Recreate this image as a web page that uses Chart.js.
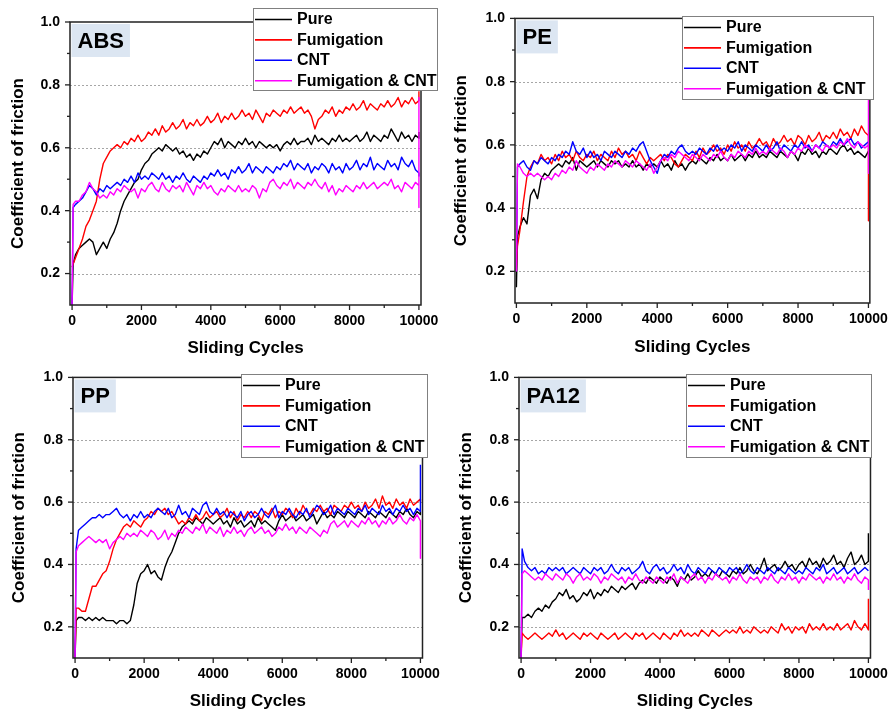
<!DOCTYPE html>
<html>
<head>
<meta charset="utf-8">
<title>Coefficient of friction vs sliding cycles</title>
<script src="https://cdn.jsdelivr.net/npm/chart.js@4.4.1/dist/chart.umd.min.js"></script>
<style>
  html, body { margin: 0; padding: 0; background: #fff; }
  body { width: 896px; height: 719px; position: relative; overflow: hidden; }
  canvas { position: absolute; }
</style>
</head>
<body>
<canvas id="absChart" width="448" height="360" style="left:0;top:0"></canvas>
<canvas id="peChart" width="448" height="360" style="left:448px;top:0"></canvas>
<canvas id="ppChart" width="448" height="360" style="left:0;top:359px"></canvas>
<canvas id="pa12Chart" width="448" height="360" style="left:448px;top:359px"></canvas>
<script>
// Sliding cycles shared by every curve (start, 100-cycle steps, end spike)
const cycles = [
  0, 30,
  100, 200, 300, 400, 500, 600, 700, 800, 900, 1000,
  1100, 1200, 1300, 1400, 1500, 1600, 1700, 1800, 1900, 2000,
  2100, 2200, 2300, 2400, 2500, 2600, 2700, 2800, 2900, 3000,
  3100, 3200, 3300, 3400, 3500, 3600, 3700, 3800, 3900, 4000,
  4100, 4200, 4300, 4400, 4500, 4600, 4700, 4800, 4900, 5000,
  5100, 5200, 5300, 5400, 5500, 5600, 5700, 5800, 5900, 6000,
  6100, 6200, 6300, 6400, 6500, 6600, 6700, 6800, 6900, 7000,
  7100, 7200, 7300, 7400, 7500, 7600, 7700, 7800, 7900, 8000,
  8100, 8200, 8300, 8400, 8500, 8600, 8700, 8800, 8900, 9000,
  9100, 9200, 9300, 9400, 9500, 9600, 9700, 9800, 9900, 10000,
  10000, 10000
];

const seriesNames = ['Pure', 'Fumigation', 'CNT', 'Fumigation & CNT'];
const seriesColors = ['#000000', '#ff0000', '#0000ff', '#ff00ff'];

const yTicks = [0.2, 0.4, 0.6, 0.8, 1.0];
const yMinorTicks = [0.3, 0.5, 0.7, 0.9];
const gridValues = [0.2, 0.4, 0.6, 0.8];
const xTicks = [0, 2000, 4000, 6000, 8000, 10000];
const xMinorTicks = [1000, 3000, 5000, 7000, 9000];

// ABS
const absPure = [
  0.10, 0.23,
  0.26, 0.28, 0.29, 0.30, 0.31, 0.30, 0.26, 0.28, 0.30, 0.28,
  0.31, 0.33, 0.36, 0.40, 0.43, 0.45, 0.47, 0.49, 0.50, 0.53,
  0.55, 0.56, 0.58, 0.59, 0.60, 0.59, 0.61, 0.60, 0.59, 0.60,
  0.58, 0.59, 0.57, 0.58, 0.56, 0.58, 0.57, 0.59, 0.58, 0.60,
  0.62, 0.61, 0.63, 0.60, 0.62, 0.61, 0.60, 0.62, 0.61, 0.63,
  0.61, 0.62, 0.60, 0.62, 0.61, 0.60, 0.61, 0.60, 0.61, 0.59,
  0.61, 0.62, 0.61, 0.63, 0.61, 0.62, 0.62, 0.63, 0.61, 0.64,
  0.62, 0.63, 0.62, 0.61, 0.63, 0.62, 0.64, 0.62, 0.63, 0.62,
  0.63, 0.64, 0.62, 0.63, 0.65, 0.62, 0.64, 0.63, 0.62, 0.64,
  0.63, 0.66, 0.64, 0.62, 0.65, 0.63, 0.64, 0.62, 0.64, 0.63,
  0.65, 0.65
];
const absFum = [
  0.22, 0.23,
  0.25, 0.28, 0.31, 0.35, 0.37, 0.40, 0.43, 0.50, 0.55, 0.57,
  0.59, 0.60, 0.61, 0.60, 0.62, 0.61, 0.63, 0.62, 0.64, 0.62,
  0.63, 0.65, 0.64, 0.66, 0.64, 0.67, 0.65, 0.66, 0.68, 0.66,
  0.67, 0.69, 0.66, 0.68, 0.67, 0.69, 0.67, 0.68, 0.70, 0.68,
  0.69, 0.71, 0.68, 0.70, 0.69, 0.71, 0.69, 0.70, 0.72, 0.70,
  0.71, 0.69, 0.72, 0.70, 0.68, 0.71, 0.70, 0.72, 0.71, 0.70,
  0.72, 0.71, 0.73, 0.71, 0.72, 0.73, 0.71, 0.72, 0.70, 0.66,
  0.69, 0.70, 0.72, 0.71, 0.73, 0.70, 0.72, 0.71, 0.73, 0.72,
  0.74, 0.72, 0.73, 0.75, 0.72, 0.74, 0.73, 0.72, 0.74, 0.73,
  0.75, 0.73, 0.74, 0.76, 0.73, 0.75, 0.74, 0.76, 0.74, 0.75,
  0.78, 0.78
];
const absCnt = [
  0.10, 0.41,
  0.42, 0.43, 0.44, 0.46, 0.48, 0.47, 0.45, 0.47, 0.46, 0.48,
  0.47, 0.48, 0.49, 0.48, 0.50, 0.49, 0.51, 0.49, 0.52, 0.50,
  0.51, 0.50, 0.52, 0.51, 0.50, 0.52, 0.50, 0.51, 0.49, 0.51,
  0.50, 0.52, 0.50, 0.49, 0.51, 0.50, 0.49, 0.51, 0.50, 0.52,
  0.51, 0.53, 0.51, 0.52, 0.50, 0.53, 0.52, 0.54, 0.52, 0.53,
  0.55, 0.52, 0.54, 0.53, 0.52, 0.54, 0.53, 0.52, 0.54, 0.53,
  0.55, 0.54, 0.56, 0.53, 0.55, 0.54, 0.53, 0.55, 0.52, 0.54,
  0.53, 0.55, 0.54, 0.52, 0.55, 0.53, 0.54, 0.52, 0.55, 0.53,
  0.54, 0.56, 0.53, 0.55, 0.54, 0.57, 0.53, 0.55, 0.54, 0.53,
  0.56, 0.54, 0.55, 0.53, 0.57, 0.55, 0.54, 0.56, 0.53, 0.52,
  0.51, 0.51
];
const absFumCnt = [
  0.10, 0.42,
  0.43, 0.43, 0.45, 0.46, 0.49, 0.47, 0.46, 0.44, 0.45, 0.44,
  0.46, 0.45, 0.47, 0.46, 0.48, 0.47, 0.46, 0.47, 0.44, 0.47,
  0.46, 0.48, 0.49, 0.47, 0.46, 0.49, 0.47, 0.46, 0.48, 0.47,
  0.48, 0.46, 0.49, 0.47, 0.45, 0.48, 0.47, 0.49, 0.47, 0.48,
  0.46, 0.45, 0.47, 0.46, 0.48, 0.47, 0.46, 0.48, 0.46, 0.47,
  0.46, 0.48, 0.47, 0.44, 0.47, 0.46, 0.49, 0.50, 0.48, 0.47,
  0.49, 0.48, 0.50, 0.47, 0.49, 0.48, 0.47, 0.49, 0.48, 0.50,
  0.48, 0.47, 0.49, 0.46, 0.48, 0.45, 0.47, 0.46, 0.48, 0.47,
  0.46, 0.48, 0.47, 0.49, 0.47, 0.48, 0.49, 0.47, 0.48, 0.49,
  0.48, 0.50, 0.47, 0.48, 0.46, 0.49, 0.48, 0.47, 0.49, 0.48,
  0.76, 0.41
];

// PE
const pePure = [
  0.15, 0.31,
  0.34, 0.37, 0.35, 0.44, 0.46, 0.43, 0.49, 0.51, 0.50, 0.52,
  0.53, 0.54, 0.53, 0.55, 0.54, 0.56, 0.52, 0.55, 0.54, 0.53,
  0.54, 0.55, 0.53, 0.55, 0.54, 0.53, 0.55, 0.54, 0.55, 0.53,
  0.54, 0.53, 0.55, 0.53, 0.54, 0.52, 0.54, 0.53, 0.54, 0.53,
  0.55, 0.53, 0.54, 0.52, 0.55, 0.53, 0.54, 0.52, 0.54, 0.55,
  0.54, 0.56, 0.55, 0.54, 0.56, 0.55, 0.57, 0.55, 0.56, 0.55,
  0.57, 0.55, 0.56, 0.57, 0.55, 0.57, 0.56, 0.58, 0.56, 0.57,
  0.56, 0.58, 0.57, 0.56, 0.58, 0.57, 0.56, 0.58, 0.57, 0.55,
  0.58, 0.57, 0.59, 0.57, 0.58, 0.56, 0.58, 0.57, 0.59, 0.58,
  0.57, 0.59, 0.60, 0.58, 0.59, 0.57, 0.58, 0.57, 0.56, 0.58,
  0.58, 0.58
];
const peFum = [
  0.20, 0.28,
  0.33, 0.42, 0.50, 0.53, 0.55, 0.54, 0.57, 0.55, 0.56, 0.54,
  0.57, 0.55, 0.58, 0.56, 0.57, 0.55, 0.58, 0.56, 0.55, 0.57,
  0.56, 0.58, 0.55, 0.57, 0.56, 0.55, 0.58, 0.56, 0.59, 0.57,
  0.58, 0.56, 0.57, 0.55, 0.58, 0.56, 0.54, 0.56, 0.55, 0.56,
  0.57, 0.55, 0.57, 0.56, 0.54, 0.53, 0.55, 0.57, 0.56, 0.55,
  0.58, 0.56, 0.59, 0.57, 0.58, 0.60, 0.58, 0.59, 0.57, 0.60,
  0.58, 0.61, 0.59, 0.60, 0.58, 0.61, 0.59, 0.60, 0.62, 0.60,
  0.61, 0.59, 0.62, 0.60, 0.61, 0.63, 0.61, 0.62, 0.60, 0.63,
  0.62, 0.60, 0.63, 0.61, 0.62, 0.64, 0.61, 0.63, 0.62, 0.64,
  0.62, 0.65, 0.63, 0.64, 0.62, 0.65, 0.63, 0.66, 0.64, 0.63,
  0.36, 0.36
];
const peCnt = [
  0.20, 0.53,
  0.54, 0.55, 0.53, 0.52, 0.55, 0.54, 0.56, 0.55, 0.54, 0.56,
  0.55, 0.57, 0.56, 0.58, 0.57, 0.61, 0.58, 0.57, 0.59, 0.56,
  0.58, 0.56, 0.57, 0.55, 0.58, 0.57, 0.56, 0.58, 0.57, 0.56,
  0.58, 0.57, 0.59, 0.58, 0.60, 0.61, 0.58, 0.55, 0.53, 0.51,
  0.55, 0.57, 0.56, 0.58, 0.57, 0.59, 0.60, 0.58, 0.57, 0.58,
  0.57, 0.59, 0.58, 0.57, 0.59, 0.58, 0.60, 0.58, 0.59, 0.58,
  0.60, 0.59, 0.61, 0.58, 0.60, 0.59, 0.58, 0.60, 0.59, 0.58,
  0.60, 0.58, 0.59, 0.61, 0.58, 0.60, 0.59, 0.58, 0.60, 0.59,
  0.61, 0.59, 0.60, 0.58, 0.60, 0.59, 0.61, 0.60, 0.59, 0.61,
  0.60, 0.62, 0.60, 0.61, 0.62, 0.60, 0.61, 0.59, 0.60, 0.61,
  0.61, 0.61
];
const peFumCnt = [
  0.20, 0.54,
  0.53, 0.51, 0.50, 0.51, 0.50, 0.51, 0.50, 0.49, 0.50, 0.49,
  0.51, 0.50, 0.52, 0.51, 0.53, 0.52, 0.55, 0.53, 0.52, 0.51,
  0.53, 0.52, 0.54, 0.53, 0.52, 0.54, 0.53, 0.55, 0.54, 0.53,
  0.55, 0.54, 0.53, 0.55, 0.54, 0.53, 0.52, 0.54, 0.51, 0.53,
  0.55, 0.56, 0.55, 0.57, 0.56, 0.58, 0.57, 0.56, 0.55, 0.57,
  0.56, 0.55, 0.57, 0.56, 0.55, 0.57, 0.56, 0.58, 0.56, 0.55,
  0.57, 0.56, 0.58, 0.57, 0.56, 0.58, 0.57, 0.59, 0.57, 0.58,
  0.57, 0.59, 0.58, 0.57, 0.59, 0.58, 0.56, 0.58, 0.57, 0.59,
  0.58, 0.60, 0.59, 0.58, 0.60, 0.59, 0.58, 0.60, 0.59, 0.60,
  0.59, 0.61, 0.60, 0.62, 0.60, 0.59, 0.61, 0.60, 0.59, 0.60,
  0.75, 0.51
];

// PP
const ppPure = [
  0.10, 0.22,
  0.23, 0.23, 0.22, 0.23, 0.22, 0.23, 0.22, 0.23, 0.22, 0.22,
  0.22, 0.21, 0.22, 0.22, 0.21, 0.22, 0.27, 0.34, 0.37, 0.38,
  0.40, 0.37, 0.38, 0.36, 0.35, 0.39, 0.42, 0.44, 0.47, 0.50,
  0.52, 0.53, 0.54, 0.53, 0.55, 0.54, 0.53, 0.55, 0.54, 0.53,
  0.54, 0.55, 0.53, 0.54, 0.52, 0.55, 0.53, 0.54, 0.52, 0.53,
  0.54, 0.52, 0.55, 0.53, 0.54, 0.53, 0.52, 0.51, 0.54, 0.56,
  0.54, 0.55, 0.56, 0.54, 0.55, 0.56, 0.54, 0.55, 0.56, 0.53,
  0.55, 0.57, 0.55, 0.56, 0.55, 0.57, 0.56, 0.55, 0.57, 0.56,
  0.55, 0.57, 0.56, 0.55, 0.57, 0.56, 0.55, 0.57, 0.56, 0.55,
  0.57, 0.56, 0.55, 0.57, 0.56, 0.58, 0.56, 0.55, 0.57, 0.56,
  0.57, 0.57
];
const ppFum = [
  0.10, 0.26,
  0.26, 0.25, 0.25, 0.29, 0.33, 0.33, 0.35, 0.37, 0.38, 0.41,
  0.45, 0.48, 0.50, 0.52, 0.53, 0.52, 0.54, 0.53, 0.52, 0.54,
  0.55, 0.57, 0.56, 0.58, 0.57, 0.58, 0.56, 0.57, 0.55, 0.53,
  0.54, 0.53, 0.55, 0.54, 0.56, 0.54, 0.55, 0.57, 0.55, 0.56,
  0.57, 0.55, 0.56, 0.58, 0.55, 0.57, 0.54, 0.56, 0.55, 0.57,
  0.55, 0.57, 0.56, 0.54, 0.57, 0.56, 0.58, 0.55, 0.57, 0.56,
  0.58, 0.57, 0.55, 0.58, 0.56, 0.59, 0.57, 0.56, 0.58, 0.57,
  0.59, 0.57, 0.58, 0.56, 0.59, 0.58, 0.57, 0.59, 0.58, 0.60,
  0.58, 0.59, 0.57, 0.60, 0.58, 0.59, 0.61, 0.58, 0.62, 0.59,
  0.60, 0.58, 0.61, 0.59, 0.60, 0.58, 0.61, 0.59, 0.60, 0.61,
  0.60, 0.60
];
const ppCnt = [
  0.10, 0.45,
  0.51, 0.52, 0.53, 0.54, 0.55, 0.55, 0.56, 0.55, 0.56, 0.56,
  0.57, 0.58, 0.56, 0.55, 0.56, 0.54, 0.56, 0.55, 0.57, 0.55,
  0.56, 0.55, 0.57, 0.58, 0.57, 0.56, 0.58, 0.55, 0.56, 0.59,
  0.56, 0.57, 0.55, 0.58, 0.57, 0.56, 0.59, 0.60, 0.57, 0.56,
  0.58, 0.56, 0.57, 0.55, 0.57, 0.56, 0.55, 0.57, 0.54, 0.56,
  0.57, 0.55, 0.56, 0.58, 0.56, 0.55, 0.57, 0.59, 0.55, 0.57,
  0.56, 0.58, 0.56, 0.55, 0.57, 0.56, 0.58, 0.55, 0.57, 0.59,
  0.58, 0.56, 0.57, 0.59, 0.56, 0.58, 0.57, 0.56, 0.58, 0.57,
  0.56, 0.58, 0.57, 0.59, 0.56, 0.58, 0.57, 0.56, 0.59, 0.57,
  0.58, 0.56, 0.58, 0.57, 0.59, 0.57, 0.58, 0.56, 0.58, 0.57,
  0.72, 0.72
];
const ppFumCnt = [
  0.10, 0.44,
  0.46, 0.47, 0.48, 0.49, 0.48, 0.47, 0.48, 0.47, 0.48, 0.45,
  0.47, 0.48, 0.49, 0.48, 0.50, 0.49, 0.50, 0.49, 0.51, 0.50,
  0.49, 0.51, 0.50, 0.48, 0.49, 0.51, 0.48, 0.50, 0.49, 0.51,
  0.50, 0.52, 0.51, 0.50, 0.52, 0.51, 0.53, 0.50, 0.52, 0.51,
  0.50, 0.52, 0.49, 0.51, 0.50, 0.52, 0.50, 0.51, 0.49, 0.51,
  0.52, 0.50, 0.51, 0.52, 0.50, 0.51, 0.49, 0.50, 0.52, 0.51,
  0.53, 0.51, 0.52, 0.50, 0.52, 0.51, 0.50, 0.52, 0.51, 0.50,
  0.49, 0.51, 0.50, 0.53, 0.54, 0.52, 0.53, 0.54, 0.52, 0.54,
  0.53, 0.52, 0.54, 0.53, 0.55, 0.53, 0.54, 0.52, 0.54, 0.53,
  0.55, 0.53, 0.54, 0.56, 0.54, 0.53, 0.55, 0.54, 0.56, 0.54,
  0.42, 0.42
];

// PA12
const pa12Pure = [
  0.10, 0.23,
  0.23, 0.24, 0.23, 0.25, 0.26, 0.25, 0.27, 0.26, 0.28, 0.29,
  0.31, 0.30, 0.32, 0.29, 0.30, 0.28, 0.29, 0.31, 0.30, 0.32,
  0.29, 0.31, 0.30, 0.32, 0.31, 0.33, 0.32, 0.31, 0.33, 0.32,
  0.33, 0.34, 0.32, 0.34, 0.35, 0.34, 0.36, 0.35, 0.34, 0.36,
  0.35, 0.34, 0.36, 0.35, 0.33, 0.36, 0.35, 0.37, 0.35, 0.36,
  0.38, 0.36, 0.37, 0.36, 0.38, 0.37, 0.36, 0.38, 0.37, 0.36,
  0.38, 0.37, 0.39, 0.37, 0.38, 0.40, 0.38, 0.37, 0.39, 0.42,
  0.38, 0.39, 0.40, 0.38, 0.39, 0.41, 0.39, 0.40, 0.38, 0.40,
  0.41, 0.39, 0.42, 0.40, 0.41, 0.39, 0.42, 0.40, 0.41, 0.43,
  0.40, 0.41, 0.39, 0.42, 0.44, 0.40, 0.41, 0.43, 0.40, 0.41,
  0.50, 0.50
];
const pa12Fum = [
  0.10, 0.18,
  0.17, 0.16, 0.17, 0.18, 0.17, 0.16, 0.17, 0.18, 0.17, 0.19,
  0.17, 0.18, 0.16, 0.17, 0.18, 0.17, 0.16, 0.18, 0.17, 0.18,
  0.17, 0.16, 0.18, 0.17, 0.16, 0.17, 0.18, 0.16, 0.17, 0.18,
  0.17, 0.16, 0.18, 0.17, 0.18, 0.16, 0.17, 0.18, 0.17, 0.16,
  0.18, 0.17, 0.16, 0.18, 0.17, 0.19, 0.17, 0.18, 0.17, 0.18,
  0.17, 0.19, 0.18, 0.17, 0.19, 0.18, 0.17, 0.18, 0.19, 0.18,
  0.19, 0.18, 0.20, 0.18, 0.19, 0.18, 0.20, 0.19, 0.18, 0.19,
  0.18, 0.20, 0.19, 0.18, 0.21, 0.19, 0.20, 0.18, 0.20, 0.19,
  0.20, 0.18, 0.21, 0.19, 0.20, 0.19, 0.21, 0.19, 0.20, 0.19,
  0.21, 0.19, 0.20, 0.21, 0.19, 0.22, 0.20, 0.19, 0.21, 0.19,
  0.29, 0.29
];
const pa12Cnt = [
  0.10, 0.45,
  0.41, 0.39, 0.38, 0.39, 0.37, 0.38, 0.37, 0.39, 0.38, 0.39,
  0.38, 0.39, 0.37, 0.38, 0.39, 0.38, 0.37, 0.39, 0.38, 0.37,
  0.39, 0.38, 0.39, 0.37, 0.38, 0.40, 0.38, 0.37, 0.39, 0.38,
  0.39, 0.37, 0.38, 0.39, 0.41, 0.38, 0.37, 0.39, 0.40, 0.38,
  0.39, 0.37, 0.38, 0.40, 0.38, 0.39, 0.37, 0.40, 0.38, 0.37,
  0.39, 0.38, 0.37, 0.39, 0.38, 0.37, 0.39, 0.38, 0.37, 0.39,
  0.38, 0.39, 0.37, 0.38, 0.40, 0.38, 0.37, 0.39, 0.38, 0.37,
  0.39, 0.38, 0.37, 0.39, 0.38, 0.37, 0.39, 0.38, 0.37, 0.38,
  0.37, 0.39, 0.38, 0.37, 0.39, 0.38, 0.40, 0.37, 0.38, 0.39,
  0.37, 0.38, 0.39, 0.37, 0.38, 0.39, 0.37, 0.38, 0.39, 0.38,
  0.38, 0.38
];
const pa12FumCnt = [
  0.10, 0.37,
  0.38, 0.37, 0.36, 0.35, 0.36, 0.35, 0.37, 0.36, 0.35, 0.37,
  0.36, 0.35, 0.37, 0.36, 0.34, 0.36, 0.37, 0.35, 0.36, 0.35,
  0.37, 0.36, 0.34, 0.36, 0.35, 0.37, 0.36, 0.35, 0.36, 0.34,
  0.36, 0.35, 0.37, 0.35, 0.34, 0.36, 0.35, 0.34, 0.36, 0.35,
  0.34, 0.36, 0.35, 0.37, 0.34, 0.36, 0.35, 0.34, 0.36, 0.37,
  0.35, 0.36, 0.34, 0.36, 0.35, 0.37, 0.36, 0.35, 0.36, 0.34,
  0.36, 0.35, 0.37, 0.35, 0.34, 0.36, 0.35, 0.36, 0.34, 0.36,
  0.35, 0.37, 0.35, 0.34, 0.36, 0.35, 0.37, 0.35, 0.36, 0.34,
  0.36, 0.35, 0.37, 0.36, 0.35, 0.36, 0.34, 0.36, 0.35, 0.37,
  0.35, 0.36, 0.34, 0.36, 0.35, 0.37, 0.35, 0.34, 0.36, 0.35,
  0.32, 0.32
];

// Panel layout (canvas-local pixels)
const panels = [
  { canvasId: 'absChart', name: 'ABS', series: [absPure, absFum, absCnt, absFumCnt],
    xMin: -60, xMax: 10060, plot: { left: 70, right: 421, top: 22, bottom: 305 },
    yTitleX: 18, xTitleY: 348, legend: { x: 253, y: 8, w: 185, h: 83 } },
  { canvasId: 'peChart', name: 'PE', series: [pePure, peFum, peCnt, peFumCnt],
    xMin: -40, xMax: 10040, plot: { left: 67, right: 425, top: 14, bottom: 303 },
    yTitleX: 13, xTitleY: 347, legend: { x: 234, y: 16, w: 192, h: 84 } },
  { canvasId: 'ppChart', name: 'PP', series: [ppPure, ppFum, ppCnt, ppFumCnt],
    xMin: -60, xMax: 10060, plot: { left: 73, right: 429, top: 13, bottom: 299 },
    yTitleX: 19, xTitleY: 342, legend: { x: 241, y: 15, w: 187, h: 84 } },
  { canvasId: 'pa12Chart', name: 'PA12', series: [pa12Pure, pa12Fum, pa12Cnt, pa12FumCnt],
    xMin: -60, xMax: 10060, plot: { left: 71, right: 426, top: 14, bottom: 299 },
    yTitleX: 18, xTitleY: 342, legend: { x: 238, y: 15, w: 186, h: 84 } }
];

const FONT = '"Liberation Sans", Arial, Helvetica, sans-serif';
Chart.defaults.font.family = FONT;
Chart.defaults.font.weight = 'bold';
Chart.defaults.color = '#000';

const CANVAS_W = 448;
const CANVAS_H = 360;
const TITLE_SIZE = 17;

// Frame, outward ticks, dotted grid, sample tag and boxed legend
function panelDecor(panel) {
  return {
    id: 'panelDecor',
    beforeDatasetsDraw(chart) {
      const ctx = chart.ctx, a = chart.chartArea, ys = chart.scales.y;
      ctx.save();
      ctx.strokeStyle = '#a6a6a6';
      ctx.lineWidth = 1;
      ctx.setLineDash([2, 2]);
      gridValues.forEach(v => {
        const py = Math.round(ys.getPixelForValue(v)) + 0.5;
        ctx.beginPath();
        ctx.moveTo(a.left, py);
        ctx.lineTo(a.right, py);
        ctx.stroke();
      });
      ctx.restore();
    },
    afterDatasetsDraw(chart) {
      const ctx = chart.ctx, a = chart.chartArea;
      const xs = chart.scales.x, ys = chart.scales.y;
      ctx.save();
      ctx.strokeStyle = '#222';
      ctx.lineWidth = 1.5;
      ctx.strokeRect(a.left, a.top, a.right - a.left, a.bottom - a.top);

      ctx.lineWidth = 1.3;
      const tick = (x1, y1, x2, y2) => {
        ctx.beginPath(); ctx.moveTo(x1, y1); ctx.lineTo(x2, y2); ctx.stroke();
      };
      xTicks.forEach(v => { const px = xs.getPixelForValue(v); tick(px, a.bottom, px, a.bottom + 5); });
      xMinorTicks.forEach(v => { const px = xs.getPixelForValue(v); tick(px, a.bottom, px, a.bottom + 3); });
      yTicks.forEach(v => { const py = ys.getPixelForValue(v); tick(a.left, py, a.left - 5, py); });
      yMinorTicks.forEach(v => { const py = ys.getPixelForValue(v); tick(a.left, py, a.left - 3, py); });

      // material tag
      ctx.font = 'bold 22px ' + FONT;
      const tw = ctx.measureText(panel.name).width;
      const tx = a.left + 1.5, ty = a.top + 2;
      ctx.fillStyle = '#dce6f2';
      ctx.fillRect(tx, ty, tw + 12, 33);
      ctx.fillStyle = '#000';
      ctx.textBaseline = 'middle';
      ctx.textAlign = 'left';
      ctx.fillText(panel.name, tx + 6, ty + 17.5);

      // legend
      const L = panel.legend;
      ctx.fillStyle = '#fff';
      ctx.fillRect(L.x, L.y, L.w, L.h);
      ctx.strokeStyle = '#808080';
      ctx.lineWidth = 1;
      ctx.strokeRect(L.x + 0.5, L.y + 0.5, L.w - 1, L.h - 1);
      ctx.font = 'bold 16px ' + FONT;
      chart.data.datasets.forEach((ds, i) => {
        const ry = L.y + 11.5 + i * 20.4;
        ctx.strokeStyle = ds.borderColor;
        ctx.lineWidth = 1.6;
        tick(L.x + 2, ry, L.x + 39, ry);
        ctx.fillStyle = '#000';
        ctx.fillText(ds.label, L.x + 44, ry + 0.5);
      });
      ctx.restore();
    }
  };
}

panels.forEach(panel => {
  const lineHalf = TITLE_SIZE * 1.2 / 2;
  new Chart(document.getElementById(panel.canvasId), {
    type: 'line',
    data: {
      datasets: panel.series.map((vals, i) => ({
        label: seriesNames[i],
        data: cycles.map((c, j) => ({ x: c, y: vals[j] })),
        borderColor: seriesColors[i],
        borderWidth: 1.4,
        borderJoinStyle: 'round',
        pointRadius: 0,
        tension: 0,
        fill: false,
        order: seriesNames.length - i
      }))
    },
    options: {
      responsive: false,
      animation: false,
      devicePixelRatio: 1,
      layout: { padding: { left: 0, top: panel.plot.top, right: CANVAS_W - panel.plot.right, bottom: 0 } },
      plugins: { legend: { display: false }, tooltip: { enabled: false } },
      scales: {
        x: {
          type: 'linear',
          min: panel.xMin,
          max: panel.xMax,
          afterBuildTicks: s => { s.ticks = xTicks.map(v => ({ value: v })); },
          afterFit: s => { s.height = CANVAS_H - panel.plot.bottom; },
          grid: { display: false, drawTicks: false },
          border: { display: false },
          ticks: { padding: 8, maxRotation: 0, autoSkip: false, font: { size: 14, weight: 'bold' },
                   callback: v => String(v) },
          title: { display: true, text: 'Sliding Cycles', font: { size: TITLE_SIZE, weight: 'bold' },
                   padding: { top: 0, bottom: CANVAS_H - lineHalf - panel.xTitleY } }
        },
        y: {
          type: 'linear',
          min: 0.1,
          max: 1.0,
          afterBuildTicks: s => { s.ticks = yTicks.map(v => ({ value: v })); },
          afterFit: s => { s.width = panel.plot.left; },
          grid: { display: false, drawTicks: false },
          border: { display: false },
          ticks: { padding: 10, font: { size: 14, weight: 'bold' }, callback: v => Number(v).toFixed(1) },
          title: { display: true, text: 'Coefficient of friction', font: { size: TITLE_SIZE, weight: 'bold' },
                   padding: { top: panel.yTitleX - lineHalf, bottom: 0 } }
        }
      }
    },
    plugins: [panelDecor(panel)]
  });
});
</script>
</body>
</html>
